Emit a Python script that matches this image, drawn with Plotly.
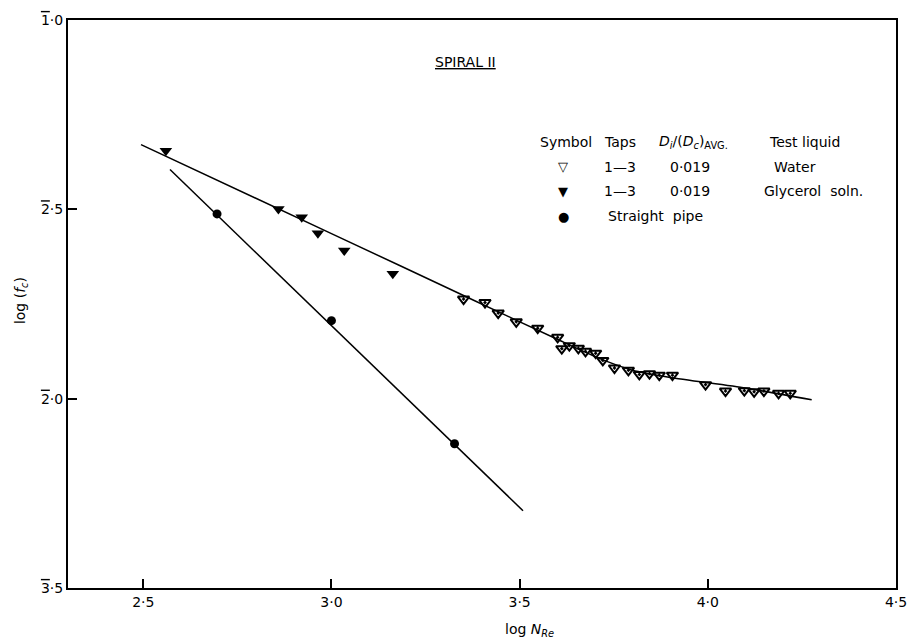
import plotly.graph_objects as go

# ---- data ----
water_x = [3.351, 3.408, 3.443, 3.491, 3.548, 3.601, 3.612, 3.632, 3.656, 3.675, 3.702, 3.721, 3.752,
           3.789, 3.818, 3.845, 3.871, 3.906, 3.994, 4.047, 4.097, 4.123, 4.149, 4.188, 4.219]
water_y = [-1.737, -1.746, -1.774, -1.797, -1.814, -1.838, -1.868, -1.860, -1.867, -1.875, -1.880, -1.899, -1.919,
           -1.925, -1.936, -1.934, -1.938, -1.938, -1.963, -1.980, -1.979, -1.982, -1.980, -1.986, -1.986]

glyc_x = [2.560, 2.859, 2.921, 2.964, 3.034, 3.163]
glyc_y = [-1.345, -1.499, -1.521, -1.563, -1.609, -1.670]

pipe_x = [2.696, 3.000, 3.327]
pipe_y = [-1.512, -1.794, -2.119]

pipe_fit_x = [2.571, 3.509]
pipe_fit_y = [-1.395, -2.296]

spiral_fit_x = [2.494, 3.0, 3.382, 3.6, 3.72, 3.80, 3.9, 4.1, 4.276]
spiral_fit_y = [-1.329, -1.564, -1.742, -1.843, -1.897, -1.925, -1.944, -1.972, -2.003]

x_tickvals = [2.5, 3.0, 3.5, 4.0, 4.5]
x_ticktext = ["2·5", "3·0", "3·5", "4·0", "4·5"]
y_tickvals = [-2.5, -2.0, -1.5, -1.0]
OV = "<span style='text-decoration:overline'>{}</span>"
y_ticktext = [OV.format("3") + "·5", OV.format("2") + "·0", OV.format("2") + "·5", OV.format("1") + "·0"]

FONT = "DejaVu Sans"
W, H = 919, 643
L, R, T, B = 68, 13, 15, 55
PW, PH = W - L - R, H - T - B


def px(x):
    return (x - L) / PW


def py(y):
    return (H - B - y) / PH


fig = go.Figure()

fig.add_trace(go.Scatter(x=spiral_fit_x, y=spiral_fit_y, mode="lines",
                         line=dict(color="black", width=1.5, shape="spline", smoothing=0.6),
                         showlegend=False, hoverinfo="skip"))
fig.add_trace(go.Scatter(x=pipe_fit_x, y=pipe_fit_y, mode="lines",
                         line=dict(color="black", width=1.5), showlegend=False, hoverinfo="skip"))
fig.add_trace(go.Scatter(x=water_x, y=water_y, mode="markers", name="Water",
                         marker=dict(symbol="triangle-down-open-dot", size=10, color="black",
                                     line=dict(width=2, color="black")), showlegend=False))
fig.add_trace(go.Scatter(x=glyc_x, y=glyc_y, mode="markers", name="Glycerol soln.",
                         marker=dict(symbol="triangle-down", size=11, color="black"), showlegend=False))
fig.add_trace(go.Scatter(x=pipe_x, y=pipe_y, mode="markers", name="Straight pipe",
                         marker=dict(symbol="circle", size=9, color="black"), showlegend=False))

ann = []


def text(x, y, s, size=14, xanchor="left", **kw):
    ann.append(dict(x=px(x), y=py(y), xref="paper", yref="paper", text=s, showarrow=False,
                    xanchor=xanchor, yanchor="middle", font=dict(family=FONT, size=size, color="black"), **kw))


text(470, 57, "<u>SPIRAL II</u>", xanchor="center")
hy = 138
text(544, hy, "Symbol")
text(608, hy, "Taps")
text(664, hy, "<i>D<sub>i</sub></i>/(<i>D<sub>c</sub></i>)<sub>AVG.</sub>")
text(775, hy, "Test liquid")
rows = [163, 188, 213]
text(569, rows[0], "\u25BD", size=13, xanchor="center")
text(608, rows[0], "1—3")
text(675, rows[0], "0·019")
text(781, rows[0], "Water")
text(569, rows[1], "\u25BC", size=13, xanchor="center")
text(608, rows[1], "1—3")
text(675, rows[1], "0·019")
text(770, rows[1], "Glycerol  soln.")
text(569, rows[2], "\u25CF", size=13, xanchor="center")
text(612, rows[2], "Straight  pipe")

text(535, 630, "log <i>N<sub>Re</sub></i>", xanchor="center")
ann.append(dict(x=px(20), y=py(298), xref="paper", yref="paper", text="log (<i>f<sub>c</sub></i>)",
                showarrow=False, textangle=-90, xanchor="center", yanchor="middle",
                font=dict(family=FONT, size=14, color="black")))

fig.update_layout(
    width=W, height=H, margin=dict(l=L, r=R, t=T, b=B),
    paper_bgcolor="white", plot_bgcolor="white",
    annotations=ann,
    xaxis=dict(range=[2.3, 4.5], tickvals=x_tickvals, ticktext=x_ticktext, ticks="inside", ticklen=9,
               tickwidth=1.5, tickcolor="black", showline=True, linewidth=2, linecolor="black", mirror=True,
               showgrid=False, zeroline=False, tickfont=dict(family=FONT, size=14, color="black")),
    yaxis=dict(range=[-2.5, -1.0], tickvals=y_tickvals, ticktext=y_ticktext, ticks="inside", ticklen=9,
               tickwidth=1.5, tickcolor="black", showline=True, linewidth=2, linecolor="black", mirror=True,
               showgrid=False, zeroline=False, tickfont=dict(family=FONT, size=14, color="black")),
)

fig.write_html("out.html")
